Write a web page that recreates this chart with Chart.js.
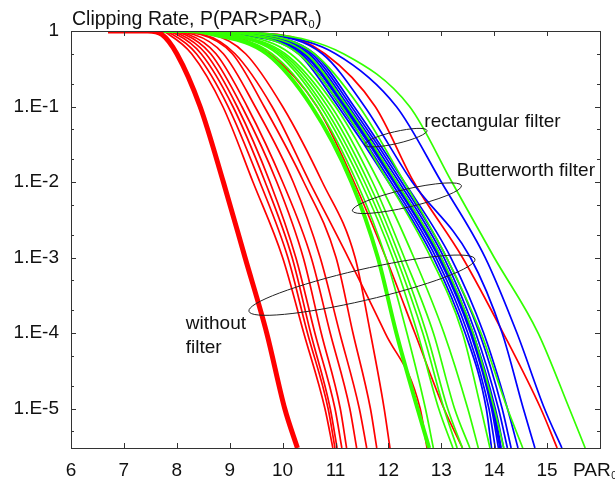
<!DOCTYPE html>
<html>
<head>
<meta charset="utf-8">
<script src="https://cdn.jsdelivr.net/npm/chart.js@4.4.0/dist/chart.umd.min.js"></script>
<style>
  html, body { margin: 0; padding: 0; background: #fff; }
</style>
</head>
<body>
<canvas id="chart" width="615" height="483"></canvas>
<script>
const yLevels = [1, 1, 0.9, 0.5, 0.1, 0.01, 1e-3, 1e-4, 1e-5, 3e-6];

const xTicks = [6, 7, 8, 9, 10, 11, 12, 13, 14, 15];
const yTicks = [1, 1e-1, 1e-2, 1e-3, 1e-4, 1e-5];
const yTickLabels = ['1', '1.E-1', '1.E-2', '1.E-3', '1.E-4', '1.E-5'];

// without filter
const redThick = [6.7, 7.45, 7.72, 8.0, 8.44, 8.88, 9.29, 9.7, 10.04, 10.28];

const redThin = [
    [7.6, 7.7, 7.85, 8.28, 8.87, 9.44, 10.0, 10.4, 10.8, 10.95],
    [7.6, 7.7, 7.92, 8.37, 8.97, 9.57, 10.1, 10.47, 10.86, 10.99],
    [7.6, 7.7, 8.0, 8.46, 9.06, 9.67, 10.18, 10.53, 10.9, 11.03],
    [7.6, 7.7, 8.07, 8.55, 9.14, 9.76, 10.25, 10.61, 10.99, 11.12],
    [7.6, 7.7, 8.15, 8.64, 9.23, 9.89, 10.39, 10.73, 11.09, 11.21],
    [7.6, 7.7, 8.22, 8.74, 9.33, 10.0, 10.54, 10.9, 11.27, 11.4],
    [7.6, 7.7, 8.32, 8.88, 9.48, 10.2, 10.71, 11.08, 11.45, 11.59],
    [7.6, 7.7, 8.45, 9.05, 9.65, 10.4, 11.01, 11.33, 11.66, 11.78],
    [7.6, 7.7, 8.65, 9.3, 10.0, 10.75, 11.37, 11.66, 11.92, 12.03],
    [7.6, 7.7, 8.5, 9.1, 9.8, 10.51, 11.24, 11.94, 12.6, 12.73],
    [7.6, 7.7, 8.9, 9.75, 10.65, 11.35, 11.95, 12.5, 13.05, 13.4],
    [7.6, 7.7, 9.9, 10.8, 11.75, 12.48, 13.4, 14.17, 14.88, 15.19]
];

const greenThick = [7.6, 8.2, 8.7, 9.7, 10.55, 11.3, 11.8, 12.15, 12.55, 12.77];

const greenThin = [
    [7.6, 8.2, 8.8, 9.8, 10.65, 11.4, 11.95, 12.35, 12.7, 12.85],
    [7.6, 8.2, 8.9, 9.9, 10.72, 11.48, 12.08, 12.55, 12.95, 13.22],
    [7.6, 8.2, 8.95, 9.95, 10.78, 11.55, 12.15, 12.65, 13.05, 13.3],
    [7.6, 8.2, 9.0, 10.0, 10.85, 11.62, 12.22, 12.72, 13.12, 13.4],
    [7.6, 8.2, 9.05, 10.05, 10.92, 11.7, 12.3, 12.85, 13.25, 13.54],
    [7.6, 8.2, 9.15, 10.15, 11.0, 11.82, 12.48, 13.05, 13.5, 13.7],
    [7.6, 8.2, 9.3, 10.3, 11.12, 12.0, 12.8, 13.4, 13.75, 13.92],
    [7.6, 8.2, 9.4, 10.45, 11.22, 12.15, 13.0, 13.6, 14.0, 14.18],
    [7.6, 8.2, 9.6, 10.6, 11.45, 12.3, 13.1, 13.75, 14.25, 14.54],
    [7.6, 8.2, 9.85, 11.15, 12.4, 13.2, 14.0, 14.83, 15.42, 15.72]
];

const blueThick = [7.6, 8.2, 9.3, 10.42, 11.18, 12.12, 12.97, 13.58, 13.98, 14.12];

const blueThin = [
    [7.6, 8.2, 9.2, 10.3, 11.05, 12.0, 12.85, 13.45, 13.85, 13.95],
    [7.6, 8.2, 9.25, 10.35, 11.1, 12.05, 12.9, 13.5, 13.9, 14.02],
    [7.6, 8.2, 9.3, 10.4, 11.15, 12.1, 12.95, 13.55, 13.95, 14.08],
    [7.6, 8.2, 9.35, 10.45, 11.2, 12.15, 13.0, 13.6, 14.02, 14.18],
    [7.6, 8.2, 9.4, 10.5, 11.25, 12.2, 13.05, 13.65, 14.08, 14.25],
    [7.6, 8.2, 9.45, 10.55, 11.3, 12.25, 13.1, 13.72, 14.15, 14.32],
    [7.6, 8.2, 9.5, 10.6, 11.35, 12.3, 13.18, 13.8, 14.25, 14.45],
    [7.6, 8.2, 9.7, 10.75, 11.55, 12.45, 13.55, 14.15, 14.55, 14.77],
    [7.6, 8.2, 9.8, 11.0, 12.15, 13.0, 13.83, 14.43, 14.95, 15.28]
];

// annotation ellipses: centre in data units, radii in px, rotation in degrees
const ellipses = [
    { x: 12.14, y: 0.0387, rx: 32, ry: 6, rot: -13 },
    { x: 12.35, y: 0.0061, rx: 56, ry: 9, rot: -13 },
    { x: 11.5, y: 4.3e-4, rx: 116, ry: 15.5, rot: -13 }
];
const notes = [
    { text: 'rectangular filter', x: 12.68, y: 0.0535 },
    { text: 'Butterworth filter', x: 13.29, y: 0.012 },
    { text: 'without', x: 8.17, y: 1.13e-4 },
    { text: 'filter', x: 8.17, y: 5.4e-5 }
];

const RED = '#ff0000', GREEN = '#33ff00', BLUE = '#0000ff';

function pts(xs) {
    return xs.map((x, i) => ({ x: x, y: yLevels[i] }));
}
function line(xs, color, width, order) {
    return {
        data: pts(xs),
        borderColor: color,
        borderWidth: width,
        pointRadius: 0,
        showLine: true,
        fill: false,
        cubicInterpolationMode: 'monotone',
        order: order
    };
}

const datasets = [];
datasets.push(line(redThick, RED, 5, 1));
redThin.forEach(r => datasets.push(line(r, RED, 1.7, 4)));
blueThin.forEach(r => datasets.push(line(r, BLUE, 1.7, 3)));
datasets.push(line(blueThick, BLUE, 3, 3));
greenThin.forEach(r => datasets.push(line(r, GREEN, 1.7, 2)));
datasets.push(line(greenThick, GREEN, 4, 2));

const FONT = '"Liberation Sans", Arial, sans-serif';

// frame, inward ticks, title, annotations
const decor = {
    id: 'decor',
    afterDraw(chart) {
        const { ctx, chartArea: a, scales } = chart;
        const sx = scales.x, sy = scales.y;
        ctx.save();
        ctx.strokeStyle = '#333';
        ctx.lineWidth = 1;
        ctx.strokeRect(Math.round(a.left) + 0.5, Math.round(a.top) + 0.5,
            Math.round(a.right - a.left), Math.round(a.bottom - a.top));

        ctx.beginPath();
        xTicks.slice(1).forEach(v => {
            const px = Math.round(sx.getPixelForValue(v)) + 0.5;
            ctx.moveTo(px, a.bottom); ctx.lineTo(px, a.bottom - 5);
            ctx.moveTo(px, a.top); ctx.lineTo(px, a.top + 5);
        });
        yTicks.forEach(v => {
            const py = Math.round(sy.getPixelForValue(v)) + 0.5;
            ctx.moveTo(a.left, py); ctx.lineTo(a.left + 5, py);
            ctx.moveTo(a.right, py); ctx.lineTo(a.right - 5, py);
            [2, 5].forEach(m => {
                const mv = v * m / 10;
                if (mv < sy.min) return;
                const mp = Math.round(sy.getPixelForValue(mv)) + 0.5;
                ctx.moveTo(a.left, mp); ctx.lineTo(a.left + 3, mp);
                ctx.moveTo(a.right, mp); ctx.lineTo(a.right - 3, mp);
            });
        });
        ctx.stroke();

        // ellipses
        ctx.strokeStyle = '#222';
        ctx.save();
        ctx.beginPath();
        ctx.rect(a.left, a.top, a.right - a.left, a.bottom - a.top);
        ctx.clip();
        ellipses.forEach(e => {
            ctx.beginPath();
            ctx.ellipse(sx.getPixelForValue(e.x), sy.getPixelForValue(e.y),
                e.rx, e.ry, e.rot * Math.PI / 180, 0, Math.PI * 2);
            ctx.stroke();
        });
        ctx.restore();

        ctx.fillStyle = '#111';
        ctx.textBaseline = 'alphabetic';
        ctx.textAlign = 'left';
        ctx.font = '19px ' + FONT;
        notes.forEach(n => {
            ctx.fillText(n.text, sx.getPixelForValue(n.x), sy.getPixelForValue(n.y));
        });

        // title with subscript
        function sub(main, s, tail, x0, y0, size) {
            ctx.font = size + 'px ' + FONT;
            ctx.fillText(main, x0, y0);
            let w = ctx.measureText(main).width;
            ctx.font = Math.round(size * 0.55) + 'px ' + FONT;
            ctx.fillText(s, x0 + w + 0.5, y0 + 3);
            w += ctx.measureText(s).width + 1;
            if (tail) {
                ctx.font = size + 'px ' + FONT;
                ctx.fillText(tail, x0 + w, y0);
            }
        }
        sub('Clipping Rate, P(PAR>PAR', '0', ')', a.left + 1, 25, 19.5);
        sub('PAR', '0', '', a.right - 27, 476, 19);
        ctx.restore();
    }
};

new Chart(document.getElementById('chart'), {
    type: 'scatter',
    data: { datasets: datasets },
    options: {
        responsive: false,
        devicePixelRatio: 1,
        animation: false,
        layout: { padding: { left: 0, top: 31, right: 15, bottom: 0 } },
        plugins: { legend: { display: false }, tooltip: { enabled: false }, title: { display: false } },
        scales: {
            x: {
                type: 'linear',
                min: 6,
                max: 16,
                afterFit: s => { s.height = 35; },
                afterBuildTicks: s => { s.ticks = xTicks.map(v => ({ value: v })); },
                grid: { display: false, drawTicks: false },
                border: { display: false },
                ticks: {
                    padding: 11,
                    color: '#111',
                    font: { family: FONT, size: 19 },
                    maxRotation: 0,
                    callback: v => String(v)
                }
            },
            y: {
                type: 'logarithmic',
                min: 3e-6,
                max: 1,
                afterFit: s => { s.width = 71; },
                afterBuildTicks: s => { s.ticks = yTicks.map(v => ({ value: v })); },
                grid: { display: false, drawTicks: false },
                border: { display: false },
                ticks: {
                    padding: 12,
                    color: '#111',
                    font: { family: FONT, size: 19 },
                    callback: v => yTickLabels[yTicks.indexOf(v)] ?? ''
                }
            }
        }
    },
    plugins: [decor]
});
</script>
</body>
</html>
